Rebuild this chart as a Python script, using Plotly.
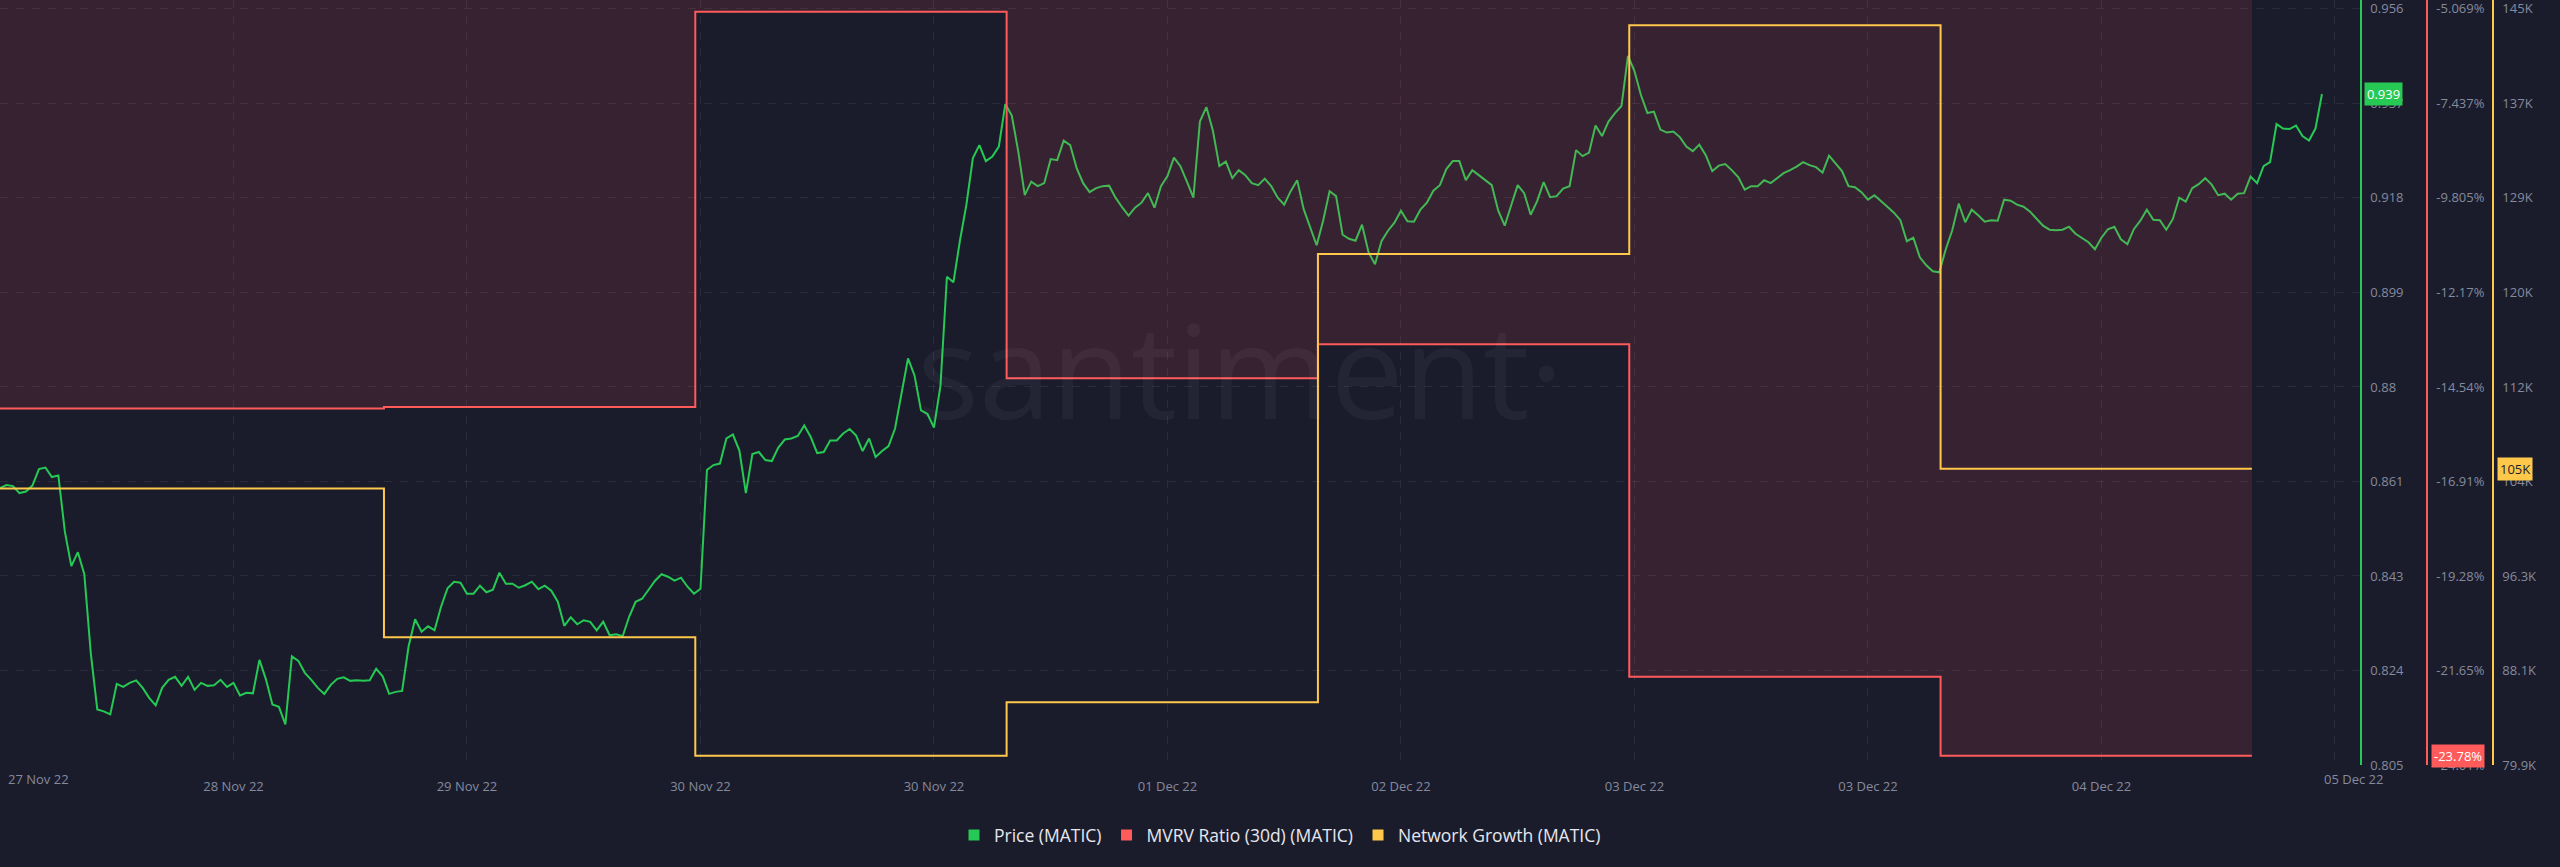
import numpy as np
import pandas as pd
import plotly.graph_objects as go

# ---------------- data ----------------
price_start = "2022-11-27 18:24"   # half-hourly samples from here
price_matic = [
    0.8603, 0.8609, 0.8607, 0.8593, 0.8596, 0.8608, 0.8641, 0.8644, 0.8625, 0.8628,
    0.8516, 0.8447, 0.8475, 0.8431, 0.8273, 0.8161, 0.8157, 0.8151, 0.8212, 0.8206,
    0.8214, 0.8219, 0.8204, 0.8184, 0.8169, 0.8204, 0.8220, 0.8226, 0.8208, 0.8226,
    0.8200, 0.8214, 0.8208, 0.8209, 0.8220, 0.8206, 0.8214, 0.8189, 0.8194, 0.8193,
    0.8260, 0.8221, 0.8171, 0.8166, 0.8131, 0.8267, 0.8258, 0.8234, 0.8220, 0.8204,
    0.8192, 0.8210, 0.8222, 0.8225, 0.8218, 0.8219, 0.8218, 0.8219, 0.8242, 0.8227,
    0.8192, 0.8196, 0.8198, 0.8287, 0.8341, 0.8316, 0.8327, 0.8319, 0.8366, 0.8403,
    0.8416, 0.8414, 0.8392, 0.8392, 0.8408, 0.8395, 0.8400, 0.8434, 0.8412, 0.8412,
    0.8404, 0.8409, 0.8416, 0.8401, 0.8408, 0.8398, 0.8376, 0.8328, 0.8345, 0.8331,
    0.8339, 0.8336, 0.8319, 0.8336, 0.8309, 0.8311, 0.8307, 0.8346, 0.8376, 0.8382,
    0.8400, 0.8418, 0.8431, 0.8426, 0.8418, 0.8424, 0.8406, 0.8392, 0.8402, 0.8639,
    0.8649, 0.8652, 0.8702, 0.8710, 0.8678, 0.8593, 0.8671, 0.8675, 0.8659, 0.8657,
    0.8684, 0.8700, 0.8702, 0.8707, 0.8728, 0.8705, 0.8673, 0.8675, 0.8698, 0.8698,
    0.8712, 0.8721, 0.8708, 0.8677, 0.8702, 0.8665, 0.8677, 0.8687, 0.8722, 0.8793,
    0.8862, 0.8828, 0.8758, 0.8751, 0.8724, 0.8807, 0.9025, 0.9014, 0.9097, 0.9169,
    0.9262, 0.9288, 0.9256, 0.9265, 0.9285, 0.9370, 0.9347, 0.9275, 0.9188, 0.9215,
    0.9206, 0.9212, 0.9260, 0.9258, 0.9297, 0.9288, 0.9242, 0.9212, 0.9194, 0.9202,
    0.9206, 0.9207, 0.9183, 0.9164, 0.9147, 0.9163, 0.9173, 0.9192, 0.9163, 0.9206,
    0.9226, 0.9263, 0.9246, 0.9215, 0.9183, 0.9335, 0.9364, 0.9317, 0.9246, 0.9255,
    0.9222, 0.9238, 0.9228, 0.9212, 0.9208, 0.9221, 0.9206, 0.9183, 0.9169, 0.9196,
    0.9218, 0.9160, 0.9123, 0.9088, 0.9137, 0.9196, 0.9186, 0.9109, 0.9101, 0.9097,
    0.9129, 0.9074, 0.9050, 0.9096, 0.9117, 0.9133, 0.9157, 0.9136, 0.9135, 0.9159,
    0.9173, 0.9197, 0.9208, 0.9240, 0.9256, 0.9256, 0.9218, 0.9238, 0.9228, 0.9218,
    0.9208, 0.9157, 0.9127, 0.9168, 0.9208, 0.9192, 0.9149, 0.9176, 0.9214, 0.9184,
    0.9186, 0.9201, 0.9206, 0.9278, 0.9266, 0.9273, 0.9327, 0.9306, 0.9335, 0.9352,
    0.9366, 0.9466, 0.9436, 0.9388, 0.9352, 0.9355, 0.9319, 0.9313, 0.9315, 0.9304,
    0.9285, 0.9276, 0.9289, 0.9268, 0.9236, 0.9247, 0.9250, 0.9238, 0.9224, 0.9199,
    0.9206, 0.9206, 0.9218, 0.9212, 0.9222, 0.9232, 0.9238, 0.9245, 0.9254, 0.9248,
    0.9244, 0.9233, 0.9267, 0.9252, 0.9236, 0.9206, 0.9204, 0.9194, 0.9179, 0.9188,
    0.9177, 0.9165, 0.9153, 0.9138, 0.9096, 0.9103, 0.9064, 0.9048, 0.9036, 0.9034,
    0.9080, 0.9118, 0.9171, 0.9134, 0.9159, 0.9148, 0.9135, 0.9138, 0.9137, 0.9179,
    0.9177, 0.9169, 0.9165, 0.9155, 0.9141, 0.9127, 0.9119, 0.9118, 0.9119, 0.9125,
    0.9111, 0.9103, 0.9094, 0.9080, 0.9103, 0.9120, 0.9125, 0.9100, 0.9090, 0.9120,
    0.9137, 0.9159, 0.9139, 0.9138, 0.9119, 0.9140, 0.9183, 0.9175, 0.9202, 0.9210,
    0.9222, 0.9209, 0.9188, 0.9191, 0.9179, 0.9191, 0.9192, 0.9225, 0.9212, 0.9246,
    0.9254, 0.9330, 0.9321, 0.9320, 0.9327, 0.9306, 0.9297, 0.9321, 0.9390,
]

daily_dates = ["2022-11-27", "2022-11-28", "2022-11-29", "2022-11-30", "2022-12-01",
               "2022-12-02", "2022-12-03", "2022-12-04", "2022-12-05"]
mvrv_30d_pct = [-15.08, -15.08, -15.08, -15.04, -5.14, -14.32, -13.47, -21.80, -23.78]
network_growth = [103700, 103700, 103700, 90900, 80700, 85300, 123900, 143600, 105400]

x_range = ["2022-11-27 18:24", "2022-12-05 08:20"]
x_tick_times = ["2022-11-27 18:24", "2022-11-28 12:24", "2022-11-29 06:24", "2022-11-30 00:24",
                "2022-11-30 18:24", "2022-12-01 12:24", "2022-12-02 06:24", "2022-12-03 00:24",
                "2022-12-03 18:24", "2022-12-04 12:24", "2022-12-05 06:24"]
x_tick_labels = ["27 Nov 22", "28 Nov 22", "29 Nov 22", "30 Nov 22", "30 Nov 22", "01 Dec 22",
                 "02 Dec 22", "03 Dec 22", "03 Dec 22", "04 Dec 22", "05 Dec 22"]

price_ticks = [0.805, 0.956]
price_tick_labels = ["0.805", "0.824", "0.843", "0.861", "0.88", "0.899", "0.918", "0.937", "0.956"]
mvrv_ticks = [-24.01, -5.069]
mvrv_tick_labels = ["-24.01%", "-21.65%", "-19.28%", "-16.91%", "-14.54%", "-12.17%",
                    "-9.805%", "-7.437%", "-5.069%"]
ng_ticks = [79900, 145000]
ng_tick_labels = ["79.9K", "88.1K", "96.3K", "104K", "112K", "120K", "129K", "137K", "145K"]

series_names = ["Price (MATIC)", "MVRV Ratio (30d) (MATIC)", "Network Growth (MATIC)"]

# ---------------- style ----------------
W, H = 2560, 867
BG = "#1a1c2c"
GREEN = "#26C953"
RED = "#FF5B5B"
YELLOW = "#FFC84A"
TICK_COL = "#858a9c"
GRID_COL = "rgba(255,255,255,0.075)"
FONT = "Open Sans"

plot_right = 2360
tick_top_px, tick_bottom_px = 9, 773      # pixel rows of the first / last tick
ydom = [1 - tick_bottom_px / H, 1.0]      # plot area runs to the very top


def padded(lo_hi):
    lo, hi = lo_hi
    per_px = (hi - lo) / (tick_bottom_px - tick_top_px)
    return [lo, hi + per_px * tick_top_px]


def tickvals(lo_hi, n):
    return [round(v, 6) for v in np.linspace(lo_hi[0], lo_hi[1], n)]


price_times = pd.date_range(price_start, periods=len(price_matic), freq="30min")

fig = go.Figure()

fig.add_trace(go.Scatter(
    x=daily_dates, y=mvrv_30d_pct, yaxis="y2", mode="lines",
    line=dict(color=RED, width=2, shape="vh"),
    fill="tozeroy", fillcolor="rgba(255,74,90,0.13)",
    showlegend=False, name=series_names[1]))

fig.add_trace(go.Scatter(
    x=daily_dates, y=network_growth, yaxis="y3", mode="lines",
    line=dict(color=YELLOW, width=2, shape="vh"),
    showlegend=False, name=series_names[2]))

fig.add_trace(go.Scatter(
    x=price_times, y=price_matic, yaxis="y", mode="lines",
    line=dict(color=GREEN, width=2),
    showlegend=False, name=series_names[0]))

# legend entries (square swatches)
for nm, col in zip(series_names, [GREEN, RED, YELLOW]):
    fig.add_trace(go.Scatter(
        x=[None], y=[None], mode="markers", name=nm,
        marker=dict(symbol="square", size=11, color=col), showlegend=True))

common_y = dict(
    side="right", zeroline=False, ticks="", showticklabels=True,
    tickfont=dict(family=FONT, size=13, color=TICK_COL),
    ticklabelstandoff=6, ticklabeloverflow="allow", linewidth=1.5, showline=True,
)

fig.update_layout(
    width=W, height=H,
    margin=dict(l=0, r=0, t=0, b=0),
    paper_bgcolor=BG, plot_bgcolor=BG,
    font=dict(family=FONT, color=TICK_COL),
    xaxis=dict(
        domain=[0, plot_right / W], type="date", range=x_range,
        tickvals=x_tick_times, ticktext=[""] + x_tick_labels[1:-1] + [""],
        showgrid=True, gridcolor=GRID_COL, griddash="8px,8px", gridwidth=1,
        zeroline=False, showline=False, ticks="",
        tickfont=dict(family=FONT, size=13, color=TICK_COL),
        ticklabelstandoff=12, ticklabeloverflow="allow",
    ),
    yaxis=dict(
        domain=ydom, range=padded(price_ticks),
        tickvals=tickvals(price_ticks, len(price_tick_labels)),
        ticktext=price_tick_labels,
        showgrid=True, gridcolor=GRID_COL, griddash="8px,8px", gridwidth=1,
        linecolor=GREEN, anchor="x", **common_y,
    ),
    yaxis2=dict(
        overlaying="y", anchor="free", position=2427 / W, range=padded(mvrv_ticks),
        tickvals=tickvals(mvrv_ticks, len(mvrv_tick_labels)),
        ticktext=mvrv_tick_labels, showgrid=False, linecolor=RED, **common_y,
    ),
    yaxis3=dict(
        overlaying="y", anchor="free", position=2493 / W, range=padded(ng_ticks),
        tickvals=tickvals(ng_ticks, len(ng_tick_labels)),
        ticktext=ng_tick_labels, showgrid=False, linecolor=YELLOW, **common_y,
    ),
    legend=dict(
        orientation="h", x=0.5, xanchor="center", y=1 - 844 / H, yanchor="middle",
        font=dict(family=FONT, size=17.5, color="#e6e7ee"), bgcolor="rgba(0,0,0,0)",
        itemclick=False,
    ),
    showlegend=True,
)

label_y = 1 - 787 / H
annotations = [
    # watermark
    dict(text="santiment·", xref="paper", yref="paper", x=1240 / W, y=1 - 372 / H,
         xanchor="center", yanchor="middle", showarrow=False,
         font=dict(family=FONT, size=130, color="rgba(255,255,255,0.045)")),
    # edge x labels kept inside the chart
    dict(text=x_tick_labels[0], xref="paper", yref="paper", x=6 / W, y=label_y,
         xanchor="left", yanchor="middle", showarrow=False,
         font=dict(family=FONT, size=13, color=TICK_COL)),
    dict(text=x_tick_labels[-1], xref="paper", yref="paper", x=2353 / W, y=label_y,
         xanchor="center", yanchor="middle", showarrow=False,
         font=dict(family=FONT, size=13, color=TICK_COL)),
    # last-value badges
    dict(text=f"{price_matic[-1]:.3f}", xref="paper", yref="y", x=2364 / W, y=price_matic[-1],
         xanchor="left", yanchor="middle", showarrow=False, bgcolor=GREEN, borderpad=2,
         font=dict(family=FONT, size=13, color="#ffffff")),
    dict(text=f"{mvrv_30d_pct[-1]:.2f}%", xref="paper", yref="y2", x=2431 / W, y=mvrv_30d_pct[-1],
         xanchor="left", yanchor="middle", showarrow=False, bgcolor=RED, borderpad=2,
         font=dict(family=FONT, size=13, color="#ffffff")),
    dict(text=f"{round(network_growth[-1] / 1000)}K", xref="paper", yref="y3", x=2497 / W,
         y=network_growth[-1], xanchor="left", yanchor="middle", showarrow=False,
         bgcolor=YELLOW, borderpad=2, font=dict(family=FONT, size=13, color="#1a1c2c")),
]
fig.update_layout(annotations=annotations)

fig.write_html("out.html", config={"displayModeBar": False},
               post_script="document.body.style.margin='0';document.body.style.overflow='hidden';")
